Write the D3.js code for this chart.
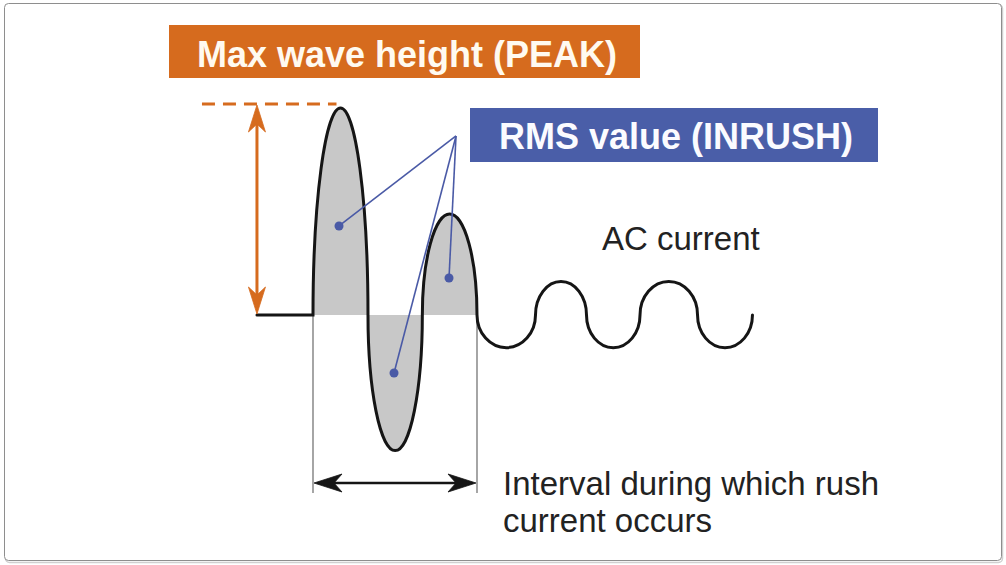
<!DOCTYPE html>
<html>
<head>
<meta charset="utf-8">
<script src="https://cdn.jsdelivr.net/npm/d3@7"></script>
<style>
  html, body { margin: 0; padding: 0; background: #fff; }
  svg { display: block; }
  text { font-family: "Liberation Sans", Arial, Helvetica, sans-serif; }
</style>
</head>
<body>
<svg id="chart" width="1006" height="565"></svg>
<script>
// ---- data (time in ms, current in arbitrary units) ----
const preTime = [-10.25, 0];                       // flat, zero current before switch-on
const crossingTime = [0, 10.06, 20.0, 30.0, 40.70, 50.03, 59.82, 70.34, 80.39]; // zero crossings
const halfWavePeak = [10, -6.55, 4.88, -1.58, 1.62, -1.58, 1.62, -1.58];        // extreme of each half-wave
const inrushHalfWaves = 3;                          // first three half-waves = rush current
const leaderOrigin = [26.16, 8.65];
const rmsDotTime = [4.76, 14.82, 24.88];
const rmsDotCurrent = [4.30, -2.80, 1.79];

const peakLabel = "Max wave height (PEAK)";
const rmsLabel = "RMS value (INRUSH)";
const acLabel = "AC current";
const intervalLabel = ["Interval during which rush", "current occurs"];

// ---- colours ----
const ORANGE = "#d66b1e";
const BLUE = "#4a5ea8";
const LEADER = "#4a5aa6";
const FILL = "#c8c8c8";
const INK = "#151515";

const svg = d3.select("#chart");

// frame
svg.append("rect").attr("x", 5.5).attr("y", 4.5).attr("width", 997).attr("height", 558)
  .attr("rx", 4).attr("fill", "none").attr("stroke", "#d0d0d0").attr("stroke-width", 1.5);
svg.append("rect").attr("x", 4.5).attr("y", 3.5).attr("width", 997).attr("height", 557)
  .attr("rx", 4).attr("fill", "#fff").attr("stroke", "#8e8e8e").attr("stroke-width", 1);

// scales
const x = d3.scaleLinear().domain([0, 30]).range([313, 477]);
const y = d3.scaleLinear().domain([0, 10]).range([315, 108]);

// chain of half-wave arcs between zero crossings
function halfWaves(from, to) {
  let s = "";
  for (let i = from; i < to; i++) {
    const x0 = x(crossingTime[i]), x1 = x(crossingTime[i + 1]);
    const rx = (x1 - x0) / 2;
    const ry = Math.abs(y(halfWavePeak[i]) - y(0));
    const sweep = halfWavePeak[i] > 0 ? 1 : 0;
    s += `A${rx},${ry} 0 0 ${sweep} ${x1},${y(0)}`;
  }
  return s;
}

// shaded inrush area
svg.append("path")
  .attr("d", `M${x(crossingTime[0])},${y(0)}` + halfWaves(0, inrushHalfWaves) + "Z")
  .attr("fill", FILL);

// interval guide lines
const intervalTime = [crossingTime[0], crossingTime[inrushHalfWaves]];
intervalTime.forEach(t => {
  svg.append("line").attr("x1", x(t)).attr("x2", x(t))
    .attr("y1", y(0)).attr("y2", y(0) + 178)
    .attr("stroke", "#6a6a6a").attr("stroke-width", 1.2);
});

// waveform
svg.append("path")
  .attr("d", `M${x(preTime[0])},${y(0)}L${x(preTime[1])},${y(0)}` + halfWaves(0, halfWavePeak.length))
  .attr("fill", "none").attr("stroke", INK).attr("stroke-width", 3)
  .attr("stroke-linejoin", "miter").attr("stroke-linecap", "round");

// arrowhead helper
function arrowHead(g, tx, ty, angle, L, W, notch, color) {
  const pts = [[0, 0], [-L, -W / 2], [-L + notch, 0], [-L, W / 2]];
  const c = Math.cos(angle), s = Math.sin(angle);
  const p = pts.map(([a, b]) => [tx + a * c - b * s, ty + a * s + b * c]);
  g.append("path").attr("d", "M" + p.map(q => q.join(",")).join("L") + "Z")
    .attr("fill", color).attr("stroke", color).attr("stroke-width", 0.8).attr("stroke-linejoin", "miter");
}

// peak annotation
const peakY = y(halfWavePeak[0]) - 4;
const peakX = (x(crossingTime[0]) + x(crossingTime[1])) / 2;
const arrowX = x(preTime[0]);
svg.append("line").attr("x1", arrowX - 55).attr("x2", peakX - 4)
  .attr("y1", peakY).attr("y2", peakY)
  .attr("stroke", ORANGE).attr("stroke-width", 3).attr("stroke-dasharray", "13,8");
svg.append("line").attr("x1", arrowX).attr("x2", arrowX)
  .attr("y1", peakY + 12).attr("y2", y(0) - 12)
  .attr("stroke", ORANGE).attr("stroke-width", 3);
arrowHead(svg, arrowX, peakY + 1, -Math.PI / 2, 27, 17, 8, ORANGE);
arrowHead(svg, arrowX, y(0) - 1, Math.PI / 2, 27, 17, 8, ORANGE);

// interval double arrow
const arrY = y(0) + 168;
svg.append("line").attr("x1", x(intervalTime[0]) + 10).attr("x2", x(intervalTime[1]) - 10)
  .attr("y1", arrY).attr("y2", arrY).attr("stroke", INK).attr("stroke-width", 2.6);
arrowHead(svg, x(intervalTime[0]) + 1, arrY, Math.PI, 28, 18, 8, INK);
arrowHead(svg, x(intervalTime[1]) - 1, arrY, 0, 28, 18, 8, INK);

// RMS leader lines & dots
rmsDotTime.forEach((t, i) => {
  svg.append("line").attr("x1", x(leaderOrigin[0])).attr("y1", y(leaderOrigin[1]))
    .attr("x2", x(t)).attr("y2", y(rmsDotCurrent[i]))
    .attr("stroke", LEADER).attr("stroke-width", 1.6);
});
rmsDotTime.forEach((t, i) => {
  svg.append("circle").attr("cx", x(t)).attr("cy", y(rmsDotCurrent[i])).attr("r", 4.5)
    .attr("fill", LEADER);
});

// label boxes
svg.append("rect").attr("x", 169).attr("y", 25).attr("width", 471).attr("height", 53).attr("fill", ORANGE);
svg.append("text").attr("x", 197).attr("y", 67).text(peakLabel)
  .attr("fill", "#fffaf0").attr("font-size", 36).attr("font-weight", "bold");

svg.append("rect").attr("x", 470).attr("y", 108).attr("width", 408).attr("height", 54).attr("fill", BLUE);
svg.append("text").attr("x", 499).attr("y", 149).text(rmsLabel)
  .attr("fill", "#fbfbff").attr("font-size", 36).attr("font-weight", "bold");

// plain labels
svg.append("text").attr("x", 602).attr("y", 250).text(acLabel)
  .attr("fill", "#222").attr("font-size", 33);
intervalLabel.forEach((s, i) => {
  svg.append("text").attr("x", 503).attr("y", 495 + i * 37).text(s)
    .attr("fill", "#222").attr("font-size", 33);
});
</script>
</body>
</html>
